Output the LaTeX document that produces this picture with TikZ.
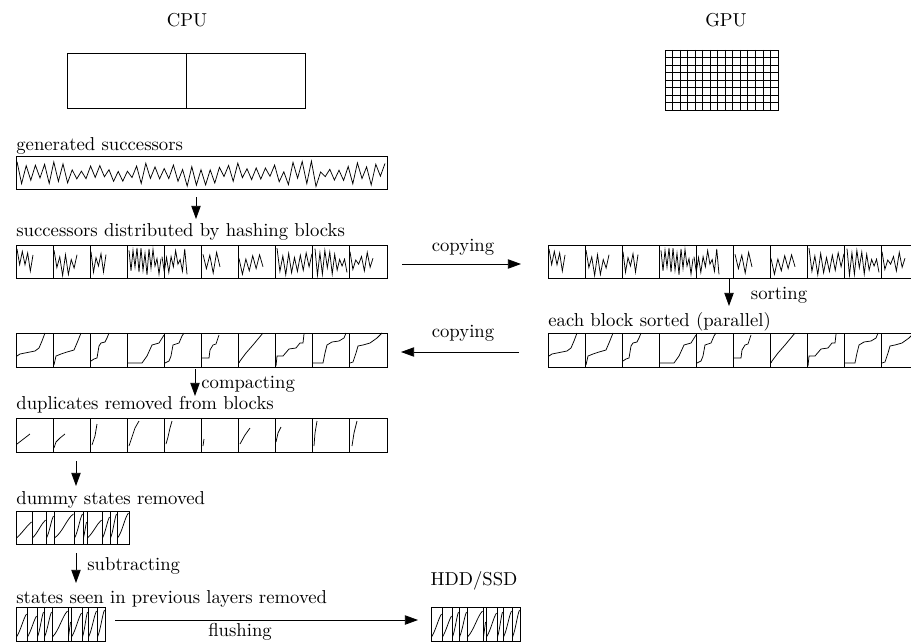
\documentclass[tikz,border=0pt]{standalone}
\usetikzlibrary{arrows.meta, fit}

\begin{document}
\begin{tikzpicture}[x=0.0188cm, y=-0.0188cm,
  flow/.style={-{Triangle[length=7pt, width=5pt]}},
  lbl/.style={anchor=west, inner sep=0pt},
  row/.style={draw, line width=0.5pt, inner sep=0pt}]

  \useasboundingbox (0,0) rectangle (911,642);

  % ---------- headings ----------
  \node (cpu) at (187,20) {CPU};
  \node (gpu) at (726,20) {GPU};

  % CPU: two cores
  \node[row, fit={(67,53) (305,108)}] (cpubox) {};
  \draw[line width=0.5pt] (186,53) -- (186,108);

  % GPU: many small cores
  \node[row, fit={(665,50) (778,110)}] (gpubox) {};
  \foreach \i in {1,...,14} \draw (665+7.53*\i,50) -- (665+7.53*\i,110);
  \foreach \j in {1,...,7} \draw (665,50+7.5*\j) -- (778,50+7.5*\j);

  % ---------- generated successors ----------
  \node[lbl] (labA) at (16,146) {generated successors};
  \node[row, fit={(16,156) (387,189)}] (rowA) {};
  \pgfmathsetseed{11}
  \draw plot[variable=\k, domain=0:80, samples=81]
    ({17 + 4.6*\k}, {174 + (2*mod(round(\k),2)-1)*(2 + 11*rnd)});

  % ---------- hashed blocks (CPU and GPU copy) ----------
  \node[lbl] (labB) at (16,232) {successors distributed by hashing blocks};
  \node[row, fit={(16,245) (387,278)}] (rowB) {};
  \node[row, fit={(548,245) (919,278)}] (rowBg) {};
  \foreach \dx in {0,532} {
    \begin{scope}[shift={(\dx,0)}]
      \pgfmathsetseed{5}
      \foreach \a/\b/\n in {17/33/6, 54/77/8, 91/106/6, 129/161/16, 162/187/11,
                           203/220/5, 239/263/7, 277/312/12, 315/347/13, 350/373/8}
        \draw plot[variable=\k, domain=0:\n, samples=\n+1]
          ({\a + (\b-\a)*\k/\n}, {262 + (2*mod(round(\k),2)-1)*(2 + 12*rnd)});
      \foreach \i in {1,...,9} \draw[line width=0.5pt] (16+37*\i,245) -- (16+37*\i,278);
    \end{scope}
  }

  % ---------- sorted blocks (GPU and copy back) ----------
  \node[lbl] (labC) at (548,322) {each block sorted (parallel)};
  \node[row, fit={(16,333) (387,367)}] (rowC) {};
  \node[row, fit={(548,333) (919,367)}] (rowCg) {};
  \foreach \dx in {0,532} {
    \begin{scope}[shift={(16+\dx,333)}]
      \draw (1,23) -- (4,21) -- (9,20) -- (14,19) -- (19,18) -- (23,15) -- (26,8) -- (29,0);
      \draw[shift={(37,0)}] (1,32) -- (3,23) -- (8,21) -- (14,19) -- (21,17) -- (24,10) -- (28,0);
      \draw[shift={(74,0)}] (1,28) -- (4,26) -- (7,25) -- (9,13) -- (11,10) -- (15,9) -- (17,5) -- (19,0);
      \draw[shift={(111,0)}] (1,30) -- (15,30) -- (20,23) -- (25,12) -- (32,10) -- (37,2);
      \draw[shift={(148,0)}] (1,30) -- (5,28) -- (7,23) -- (9,12) -- (15,10) -- (18,3) -- (20,0);
      \draw[shift={(185,0)}] (1,25) -- (8,25) -- (9,17) -- (12,12) -- (15,11) -- (18,2);
      \draw[shift={(222,0)}] (1,30) -- (2,28) -- (8,20) -- (15,12) -- (25,0);
      \draw[shift={(259,0)}] (1,33) -- (2,23) -- (8,23) -- (14,16) -- (21,15) -- (25,10) -- (28,10) -- (29,1);
      \draw[shift={(296,0)}] (1,30) -- (11,30) -- (13,20) -- (15,12) -- (20,9) -- (27,8) -- (32,5) -- (34,0);
      \draw[shift={(333,0)}] (1,30) -- (4,29) -- (7,20) -- (9,13) -- (14,12) -- (21,10) -- (28,5) -- (33,0);
      \foreach \i in {1,...,9} \draw[line width=0.5pt] (37*\i,0) -- (37*\i,34);
    \end{scope}
  }

  % ---------- duplicates removed ----------
  \node[lbl] (labD) at (16,405) {duplicates removed from blocks};
  \node[row, fit={(16,418) (387,452)}] (rowD) {};
  \begin{scope}[shift={(16,418)}]
    \draw (1,26) -- (14,16);
    \draw[shift={(37,0)}] (1,30) -- (3,24) -- (7,20) -- (12,16);
    \draw[shift={(74,0)}] (2,27) -- (5,18) -- (7,6);
    \draw[shift={(111,0)}] (2,28) -- (5,19) -- (8,10) -- (12,3);
    \draw[shift={(148,0)}] (2,26) -- (4,19) -- (6,10) -- (8,3);
    \draw[shift={(185,0)}] (2,28) -- (3,21);
    \draw[shift={(222,0)}] (2,26) -- (7,17) -- (12,10);
    \draw[shift={(259,0)}] (1,24) -- (3,15) -- (6,9);
    \draw[shift={(296,0)}] (2,28) -- (3,15) -- (5,3);
    \draw[shift={(333,0)}] (3,28) -- (5,15) -- (8,3);
    \foreach \i in {1,...,9} \draw[line width=0.5pt] (37*\i,0) -- (37*\i,34);
  \end{scope}

  % ---------- dummy states removed ----------
  \node[lbl] (labE) at (16,500) {dummy states removed};
  \node[row, fit={(16,511) (129,544)}] (rowE) {};
  \foreach \a/\b/\t in {16/32/522, 32/46/520, 46/54/516, 54/74/514, 74/83/514,
                        83/87/522, 87/102/520, 102/110/517, 110/117/514, 117/129/513} {
    \draw (\a+0.5,538) .. controls ({\a+0.45*(\b-\a)},532) and ({\b-0.35*(\b-\a)},\t+4) .. (\b-0.5,\t);
    \draw[line width=0.5pt] (\b,511) -- (\b,544);
  }

  % ---------- states seen before removed, and on disk ----------
  \node[lbl] (labF) at (16,599) {states seen in previous layers removed};
  \node[row, fit={(16,607) (105,641)}] (rowF) {};
  \node (disk) at (474,581) {HDD/SSD};
  \node[row, fit={(431,607) (520,641)}] (rowG) {};
  \foreach \dx in {0,415} {
    \begin{scope}[shift={(\dx,0)}]
      \foreach \a/\b/\t in {16/27/614, 27/37/616, 37/44/612, 44/52/612, 52/68/611,
                            68/71/622, 71/82/613, 82/88/612, 88/97/611, 97/105/610} {
        \draw (\a+0.5,637) .. controls ({\a+0.45*(\b-\a)},630) and ({\b-0.35*(\b-\a)},\t+5) .. (\b-0.5,\t);
        \draw[line width=0.5pt] (\b,607) -- (\b,641);
      }
    \end{scope}
  }

  % ---------- arrows ----------
  \coordinate (hashS) at (196,197);
  \coordinate (hashE) at (196,219);
  \draw[flow] (hashS) -- (hashE);

  \coordinate (up1) at (402,264);
  \coordinate (up2) at (521,264);
  \draw[flow] (up1) -- (up2);
  \node (copyR) at (463,247) {copying};

  \coordinate (sortS) at (729,279);
  \coordinate (sortE) at (729,306);
  \draw[flow] (sortS) -- (sortE);
  \node (sortlab) at (779,295) {sorting};

  \coordinate (down1) at (519,352);
  \coordinate (down2) at (401,352);
  \draw[flow] (down1) -- (down2);
  \node (copyL) at (463,333) {copying};

  \coordinate (compS) at (195,369);
  \coordinate (compE) at (195,396);
  \draw[flow] (compS) -- (compE);
  \node[lbl] (complab) at (201,384) {compacting};

  \coordinate (dumS) at (76,461);
  \coordinate (dumE) at (76,486);
  \draw[flow] (dumS) -- (dumE);

  \coordinate (subS) at (76,553);
  \coordinate (subE) at (76,583);
  \draw[flow] (subS) -- (subE);
  \node[lbl] (sublab) at (87,566) {subtracting};

  \coordinate (flushS) at (115,620);
  \coordinate (flushE) at (418,620);
  \draw[flow] (flushS) -- (flushE);
  \node (flushlab) at (240,632) {flushing};

\end{tikzpicture}
\end{document}
